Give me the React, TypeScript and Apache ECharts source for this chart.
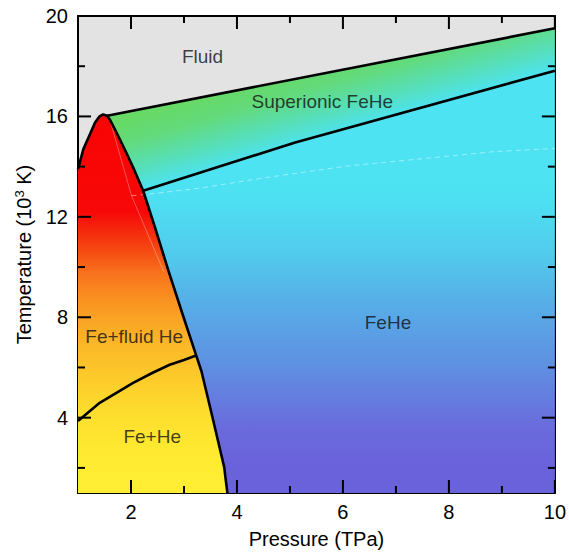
import React, { useEffect, useRef } from 'react';
import * as echarts from 'echarts';

// Axis ranges (P in TPa, T in 10^3 K)
const X_MIN = 1;
const X_MAX = 10;
const Y_MIN = 1;
const Y_MAX = 20;
const xMajorTicks = [2, 4, 6, 8, 10];
const xMinorTicks = [3, 5, 7, 9];
const yMajorTicks = [4, 8, 12, 16, 20];
const yMinorTicks = [2, 6, 10, 14, 18];

// Phase boundaries [P, T]
const meltCurve: number[][] = [
  [1.0, 13.9], [1.1, 14.69], [1.225, 15.29], [1.32, 15.75], [1.4, 15.99], [1.475, 16.08],
  [1.55, 16.03], [1.6, 15.88], [1.76, 15.22], [1.91, 14.56], [2.07, 13.83], [2.23, 13.04],
  [2.45, 11.6], [2.7, 9.9], [3.0, 7.95], [3.23, 6.48], [3.33, 5.85], [3.54, 4.0],
  [3.76, 2.02], [3.79, 1.49], [3.82, 1.0],
];
const fluidLine: number[][] = [[1.55, 16.03], [10, 19.51]];
const superionicLine: number[][] = [[2.23, 13.04], [5.1, 14.96], [10, 17.82]];
const heMeltLine: number[][] = [
  [1.0, 3.87], [1.41, 4.59], [2.04, 5.39], [2.4, 5.78], [2.73, 6.11], [3.0, 6.3], [3.23, 6.48],
];
const faintRedLine: number[][] = [[1.6, 15.88], [2.01, 12.84], [2.62, 9.8]];
const faintCyanLine: number[][] = [
  [2.01, 12.84], [2.35, 12.91], [3.29, 13.14], [4.5, 13.55], [6.1, 14.03], [7.04, 14.22],
  [8.86, 14.6], [10, 14.72],
];

// Region labels
const regionNames = ['Fluid', 'Superionic FeHe', 'FeHe', 'Fe+fluid He', 'Fe+He'];
const regionLabelPos: number[][] = [[3.35, 18.38], [5.61, 16.6], [6.85, 7.8], [2.06, 7.24], [2.4, 3.25]];

// Colour scales against temperature [T, colour]
const leftRegionColors: [number, string][] = [
  [16, '#f90404'], [12.2, '#f80808'], [10.85, '#f44210'], [9.8, '#f8701c'], [8.9, '#f98c20'],
  [8, '#faa224'], [6.9, '#fbb828'], [5.6, '#fcca2a'], [4.3, '#fddc2e'], [2.9, '#ffe830'],
  [1.6, '#ffee33'],
];
const feHeColors: [number, string][] = [
  [13.5, '#4de3f3'], [12.7, '#4de0f2'], [10.3, '#52c8ec'], [8.75, '#56b0e8'], [6.1, '#5f90e2'],
  [3.5, '#6a6adc'], [2.1, '#6a62db'],
];
const superionicColors: [number, string][] = [
  [0, '#66d966'], [0.3, '#63da7c'], [0.7, '#56dfbd'], [1, '#4de3f2'],
];

const FONT = '"Liberation Sans", Arial, Helvetica, sans-serif';

const GRID = { left: 78, right: 11, top: 16, bottom: 58 };
const W = 569;
const H = 554;
const MAJOR_LEN = 13;
const MINOR_LEN = 7;

function sliceMelt(fromP: number, toP: number): number[][] {
  return meltCurve.filter((p) => p[0] >= fromP - 1e-9 && p[0] <= toP + 1e-9);
}

export default function App() {
  const ref = useRef<HTMLDivElement>(null);

  useEffect(() => {
    if (!ref.current) return;
    const chart = echarts.init(ref.current, undefined, { renderer: 'svg' });

    const bgPoly = [[X_MIN, Y_MIN], [X_MAX, Y_MIN], [X_MAX, Y_MAX], [X_MIN, Y_MAX]];
    const leftPoly = [[X_MIN, Y_MIN], ...meltCurve];
    const siMelt = sliceMelt(fluidLine[0][0], superionicLine[0][0]);
    const superPoly = [
      ...fluidLine,
      [X_MAX, superionicLine[superionicLine.length - 1][1]],
      ...[...superionicLine].reverse(),
      ...[...siMelt].reverse(),
    ];
    const feHeMelt = sliceMelt(superionicLine[0][0], 100);
    const feHePoly = [
      ...superionicLine,
      [X_MAX, Y_MIN],
      ...[...feHeMelt].reverse(),
    ];

    const verticalFill = (stops: [number, string][]) => (api: any) => {
      const top = api.coord([X_MIN, Y_MAX]);
      const bot = api.coord([X_MIN, Y_MIN]);
      return new echarts.graphic.LinearGradient(
        top[0], top[1], bot[0], bot[1],
        stops.map(([T, c]) => ({ offset: (Y_MAX - T) / (Y_MAX - Y_MIN), color: c })),
        true
      );
    };

    const superFill = (api: any) => {
      const a = api.coord(superionicLine[0]);
      const b = api.coord(superionicLine[superionicLine.length - 1]);
      const dx = b[0] - a[0];
      const dy = b[1] - a[1];
      const len = Math.hypot(dx, dy);
      let nx = dy / len;
      let ny = -dx / len;
      if (ny > 0) { nx = -nx; ny = -ny; }
      const dist = 72;
      return new echarts.graphic.LinearGradient(
        a[0] + nx * dist, a[1] + ny * dist, a[0], a[1],
        superionicColors.map(([o, c]) => ({ offset: o, color: c })),
        true
      );
    };

    const region = (poly: number[][], fill: (api: any) => any, z = 1) => ({
      type: 'custom',
      coordinateSystem: 'cartesian2d',
      data: [[poly[0][0], poly[0][1]]],
      silent: true,
      z,
      renderItem: (_params: any, api: any) => ({
        type: 'polygon',
        shape: { points: poly.map((p) => api.coord(p)) },
        style: { fill: fill(api), stroke: 'none' },
      }),
    });

    // one tick = one small filled polygon, anchored on the axis scale
    // side: 'b' bottom, 't' top, 'l' left, 'r' right
    const tick = (v: number, side: string, len: number) => {
      const anchor =
        side === 'b' ? [v, Y_MIN] : side === 't' ? [v, Y_MAX] : side === 'l' ? [X_MIN, v] : [X_MAX, v];
      return {
        type: 'custom',
        coordinateSystem: 'cartesian2d',
        data: [anchor],
        silent: true,
        z: 8,
        renderItem: (_params: any, api: any) => {
          const p = api.coord(anchor);
          let pts: number[][];
          if (side === 'b') pts = [[p[0] - 1, p[1]], [p[0] + 1, p[1]], [p[0] + 1, p[1] - len], [p[0] - 1, p[1] - len]];
          else if (side === 't') pts = [[p[0] - 1, p[1]], [p[0] + 1, p[1]], [p[0] + 1, p[1] + len], [p[0] - 1, p[1] + len]];
          else if (side === 'l') pts = [[p[0], p[1] - 1], [p[0], p[1] + 1], [p[0] + len, p[1] + 1], [p[0] + len, p[1] - 1]];
          else pts = [[p[0], p[1] - 1], [p[0], p[1] + 1], [p[0] - len, p[1] + 1], [p[0] - len, p[1] - 1]];
          return { type: 'polygon', shape: { points: pts }, style: { fill: '#000', stroke: 'none' } };
        },
      };
    };
    const tickSeries: any[] = [];
    xMajorTicks.forEach((v) => { tickSeries.push(tick(v, 'b', MAJOR_LEN), tick(v, 't', MAJOR_LEN)); });
    xMinorTicks.forEach((v) => { tickSeries.push(tick(v, 'b', MINOR_LEN), tick(v, 't', MINOR_LEN)); });
    yMajorTicks.forEach((v) => { tickSeries.push(tick(v, 'l', MAJOR_LEN), tick(v, 'r', MAJOR_LEN)); });
    yMinorTicks.forEach((v) => { tickSeries.push(tick(v, 'l', MINOR_LEN), tick(v, 'r', MINOR_LEN)); });

    const line = (data: any[], style: any, z = 5) => ({
      type: 'line',
      data,
      symbol: 'none',
      showSymbol: false,
      silent: true,
      z,
      lineStyle: style,
    });

    const frame = { color: '#000', width: 2 };

    chart.setOption({
      animation: false,
      textStyle: { fontFamily: FONT },
      grid: { ...GRID, show: false },
      xAxis: [
        {
          type: 'value', min: X_MIN, max: X_MAX, position: 'bottom',
          splitLine: { show: false },
          axisLine: { show: true, lineStyle: frame },
          axisTick: { show: false },
          axisLabel: { show: true, customValues: xMajorTicks, fontSize: 20, color: '#000', margin: 9, fontFamily: FONT },
          name: 'Pressure (TPa)', nameLocation: 'middle', nameGap: 36,
          nameTextStyle: { fontSize: 20, color: '#000', fontFamily: FONT },
        },
        {
          type: 'value', min: X_MIN, max: X_MAX, position: 'top',
          splitLine: { show: false },
          axisLine: { show: true, lineStyle: frame },
          axisTick: { show: false },
          axisLabel: { show: false },
        },
      ],
      yAxis: [
        {
          type: 'value', min: Y_MIN, max: Y_MAX, position: 'left',
          splitLine: { show: false },
          axisLine: { show: true, lineStyle: frame },
          axisTick: { show: false },
          axisLabel: { show: true, customValues: yMajorTicks, fontSize: 20, color: '#000', margin: 10, fontFamily: FONT },
          name: 'Temperature (10{sup|3} K)', nameLocation: 'middle', nameGap: 44,
          nameTextStyle: {
            fontSize: 20, color: '#000', fontFamily: FONT,
            rich: { sup: { fontSize: 13, fontFamily: FONT, color: '#000', verticalAlign: 'top', padding: [0, 0, 8, 0] } },
          },
        },
        {
          type: 'value', min: Y_MIN, max: Y_MAX, position: 'right',
          splitLine: { show: false },
          axisLine: { show: true, lineStyle: frame },
          axisTick: { show: false },
          axisLabel: { show: false },
        },
      ],
      series: [
        region(bgPoly, () => '#e3e3e3', 0),
        region(leftPoly, verticalFill(leftRegionColors)),
        region(superPoly, superFill),
        region(feHePoly, verticalFill(feHeColors)),
        line(faintRedLine, { color: 'rgba(255,255,255,0.3)', width: 1 }, 3),
        line(faintCyanLine, { color: 'rgba(255,255,255,0.45)', width: 1, type: [5, 4] }, 3),
        line(meltCurve, { color: '#000', width: 2.6 }),
        line(fluidLine, { color: '#000', width: 2.6 }),
        line(superionicLine, { color: '#000', width: 2.6 }),
        line(heMeltLine, { color: '#000', width: 2.6 }),
        ...tickSeries,
        {
          type: 'scatter',
          silent: true,
          z: 6,
          symbolSize: 1,
          itemStyle: { color: 'rgba(0,0,0,0)' },
          data: regionNames.map((n, i) => ({ name: n, value: regionLabelPos[i] })),
          label: {
            show: true, position: 'inside', formatter: '{b}',
            fontSize: 19, color: '#111', fontFamily: FONT,
          },
        },
      ],
    });

    return () => chart.dispose();
  }, []);

  return (
    <div
      ref={ref}
      style={{ position: 'fixed', left: 0, top: 0, width: W, height: H, background: '#fff' }}
    />
  );
}
